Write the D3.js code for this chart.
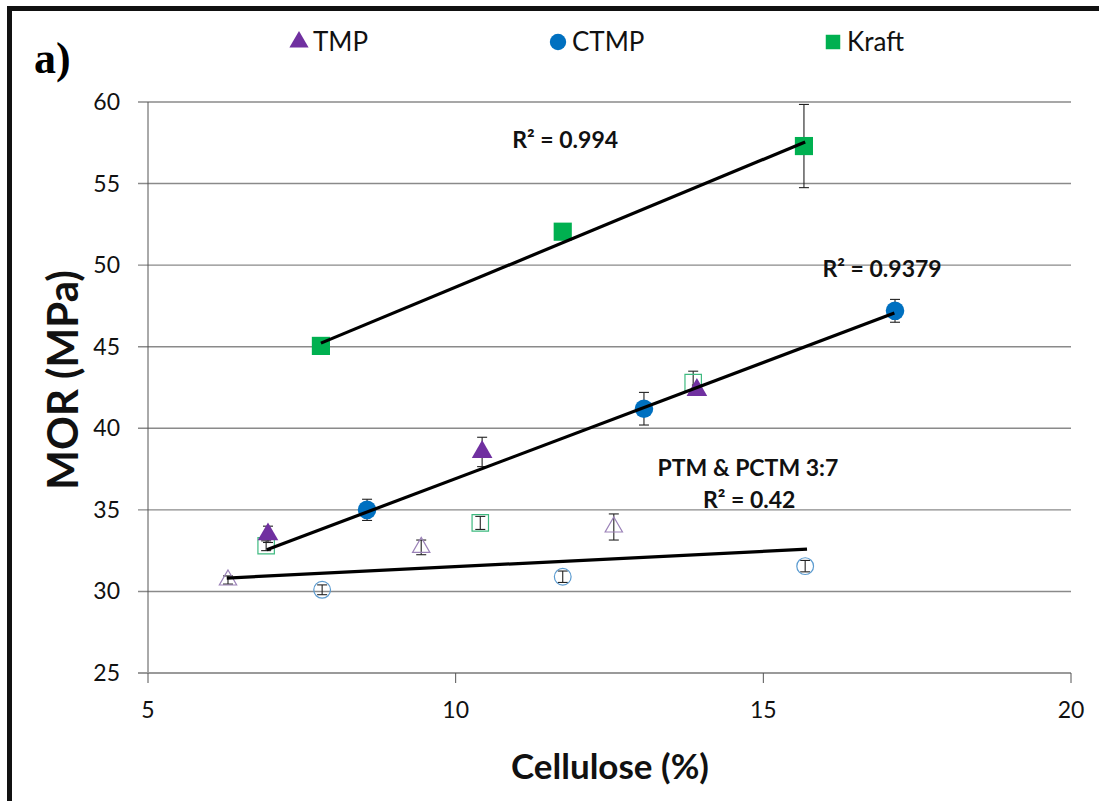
<!doctype html>
<html>
  <head>
    <meta charset="utf-8">
    <title>MOR vs Cellulose</title>
    <script src="https://d3js.org/d3.v7.min.js"></script>
    <style>
      body { margin: 0; background: #fff; }
      svg { display: block; }
      .tick-label { font-family: Lato, "Open Sans", sans-serif; font-size: 23px; fill: #111; }
      .legend-label { font-family: Lato, "Open Sans", sans-serif; font-size: 26px; fill: #111; }
      .note { font-family: Lato, "Open Sans", sans-serif; font-size: 23px; font-weight: bold; fill: #111; }
      .axis-title { font-family: Lato, "Open Sans", sans-serif; font-weight: bold; fill: #111; }
      line.grid { stroke: #8a8a8a; stroke-width: 1.4; }
      line.err { stroke: #222; stroke-width: 1.1; }
      path.fit { stroke: #000; stroke-width: 3.2; fill: none; }
    </style>
  </head>
  <body>
    <svg width="1099" height="801"></svg>
    <script>
      // axis ticks
      var xTicks = [5, 10, 15, 20];
      var yTicks = [25, 30, 35, 40, 45, 50, 55, 60];

      // filled series
      var tmpCellulose = [6.95, 10.43, 13.92];
      var tmpMOR = [33.5, 38.55, 42.35];
      var tmpErr = [0.5, 0.9, 0.3];

      var ctmpCellulose = [8.56, 13.06, 17.14];
      var ctmpMOR = [35.0, 41.2, 47.2];
      var ctmpErr = [0.65, 1.0, 0.7];

      var kraftCellulose = [7.81, 11.74, 15.66];
      var kraftMOR = [45.05, 52.05, 57.3];
      var kraftErr = [0.3, 0.3, 2.55];

      // hollow series (PTM & PCTM 3:7)
      var pTmpCellulose = [6.3, 9.44, 12.57];
      var pTmpMOR = [30.7, 32.7, 33.95];
      var pTmpErr = [0.25, 0.45, 0.8];

      var pCtmpCellulose = [7.83, 11.74, 15.68];
      var pCtmpMOR = [30.1, 30.9, 31.55];
      var pCtmpErr = [0.3, 0.35, 0.35];

      var pKraftCellulose = [6.92, 10.4, 13.86];
      var pKraftMOR = [32.8, 34.2, 42.8];
      var pKraftErr = [0.3, 0.4, 0.7];

      // trendlines (start / end)
      var fitFromX = [7.81, 6.93, 6.28];
      var fitFromY = [45.22, 32.55, 30.82];
      var fitToX = [15.68, 17.13, 15.71];
      var fitToY = [57.55, 47.06, 32.59];

      // annotations
      var noteText = ["R² = 0.994", "R² = 0.9379", "PTM & PCTM 3:7", "R² = 0.42"];
      var noteX = [11.78, 16.93, 14.75, 14.77];
      var noteY = [57.18, 49.27, 37.07, 35.1];

      var legendNames = ["TMP", "CTMP", "Kraft"];

      var purple = "#7030A0", blue = "#0070C0", green = "#00B050";

      var svg = d3.select("svg");
      var x = d3.scaleLinear().domain([5, 20]).range([148, 1071]);
      var y = d3.scaleLinear().domain([25, 60]).range([673, 102]);

      // frame (top and left only, picture is cropped)
      svg.append("line").attr("x1", 7).attr("x2", 1099).attr("y1", 8.5).attr("y2", 8.5)
        .attr("stroke", "#111").attr("stroke-width", 5);
      svg.append("line").attr("x1", 9.5).attr("x2", 9.5).attr("y1", 6).attr("y2", 801)
        .attr("stroke", "#111").attr("stroke-width", 5);

      // gridlines + y ticks
      svg.selectAll("line.grid").data(yTicks.slice(1)).enter().append("line")
        .attr("class", "grid")
        .attr("x1", 138).attr("x2", x(20))
        .attr("y1", d => y(d)).attr("y2", d => y(d));

      svg.append("line").attr("x1", x(5)).attr("x2", x(5)).attr("y1", y(60)).attr("y2", y(25))
        .attr("stroke", "#555").attr("stroke-width", 1);
      svg.append("line").attr("x1", 138).attr("x2", x(20)).attr("y1", y(25)).attr("y2", y(25))
        .attr("stroke", "#9a9a9a").attr("stroke-width", 2.2);

      svg.selectAll("line.xtick").data(xTicks).enter().append("line")
        .attr("class", "xtick")
        .attr("x1", d => x(d)).attr("x2", d => x(d))
        .attr("y1", y(25)).attr("y2", y(25) + 10)
        .attr("stroke", "#555").attr("stroke-width", 1);

      svg.selectAll("text.ylab").data(yTicks).enter().append("text")
        .attr("class", "tick-label ylab")
        .attr("x", 120).attr("y", d => y(d) + 8)
        .attr("text-anchor", "end")
        .text(d => d);

      svg.selectAll("text.xlab").data(xTicks).enter().append("text")
        .attr("class", "tick-label xlab")
        .attr("x", d => x(d)).attr("y", 718)
        .attr("text-anchor", "middle")
        .text(d => d);

      svg.append("text").attr("class", "axis-title")
        .attr("x", 610).attr("y", 779).attr("text-anchor", "middle")
        .style("font-size", "35px")
        .text("Cellulose (%)");

      svg.append("text").attr("class", "axis-title")
        .attr("transform", "translate(78,380) rotate(-90)")
        .attr("text-anchor", "middle")
        .style("font-size", "42px")
        .text("MOR (MPa)");

      svg.append("text")
        .attr("x", 34).attr("y", 73)
        .style("font-family", "'Liberation Serif', serif")
        .style("font-weight", "bold").style("font-size", "44px")
        .text("a)");

      function series(xs, ys, errs, shape, size, fill, stroke) {
        var pts = xs.map((v, i) => ({ x: v, y: ys[i], e: errs[i] }));
        var g = svg.append("g");
        g.selectAll("line.err").data(pts).enter().append("line").attr("class", "err")
          .attr("x1", d => x(d.x)).attr("x2", d => x(d.x))
          .attr("y1", d => y(d.y - d.e)).attr("y2", d => y(d.y + d.e));
        [-1, 1].forEach(function (s) {
          g.selectAll("line.cap" + s).data(pts).enter().append("line").attr("class", "err")
            .attr("x1", d => x(d.x) - 5).attr("x2", d => x(d.x) + 5)
            .attr("y1", d => y(d.y + s * d.e)).attr("y2", d => y(d.y + s * d.e));
        });
        g.selectAll("path").data(pts).enter().append("path")
          .attr("d", d3.symbol().type(shape).size(size))
          .attr("transform", d => "translate(" + x(d.x) + "," + y(d.y) + ")")
          .attr("fill", fill).attr("stroke", stroke).attr("stroke-width", stroke === "none" ? 0 : 1.2);
      }

      series(pTmpCellulose, pTmpMOR, pTmpErr, d3.symbolTriangle, 130, "none", "#9b82b8");
      series(pCtmpCellulose, pCtmpMOR, pCtmpErr, d3.symbolCircle, 220, "none", "#5b9bd0");
      series(pKraftCellulose, pKraftMOR, pKraftErr, d3.symbolSquare, 270, "none", "#3fba80");
      series(tmpCellulose, tmpMOR, tmpErr, d3.symbolTriangle, 185, purple, "none");
      series(ctmpCellulose, ctmpMOR, ctmpErr, d3.symbolCircle, 270, blue, "none");
      series(kraftCellulose, kraftMOR, kraftErr, d3.symbolSquare, 330, green, "none");

      // trendlines
      var line = d3.line().x(d => x(d[0])).y(d => y(d[1]));
      fitFromX.forEach(function (v, i) {
        svg.append("path").attr("class", "fit")
          .attr("d", line([[v, fitFromY[i]], [fitToX[i], fitToY[i]]]));
      });

      svg.selectAll("text.note").data(noteText).enter().append("text")
        .attr("class", "note")
        .attr("x", (d, i) => x(noteX[i])).attr("y", (d, i) => y(noteY[i]))
        .attr("text-anchor", "middle")
        .text(d => d);

      // legend
      var legendShapes = [d3.symbolTriangle, d3.symbolCircle, d3.symbolSquare];
      var legendColors = [purple, blue, green];
      var legendX = [299, 558, 833];
      var lg = svg.selectAll("g.legend").data(legendNames).enter().append("g")
        .attr("class", "legend")
        .attr("transform", (d, i) => "translate(" + legendX[i] + ",42)");
      lg.append("path")
        .attr("d", (d, i) => d3.symbol().type(legendShapes[i]).size(i === 0 ? 160 : 210)())
        .attr("fill", (d, i) => legendColors[i]);
      lg.append("text").attr("class", "legend-label")
        .attr("x", 14).attr("y", 9)
        .text(d => d);
    </script>
  </body>
</html>
